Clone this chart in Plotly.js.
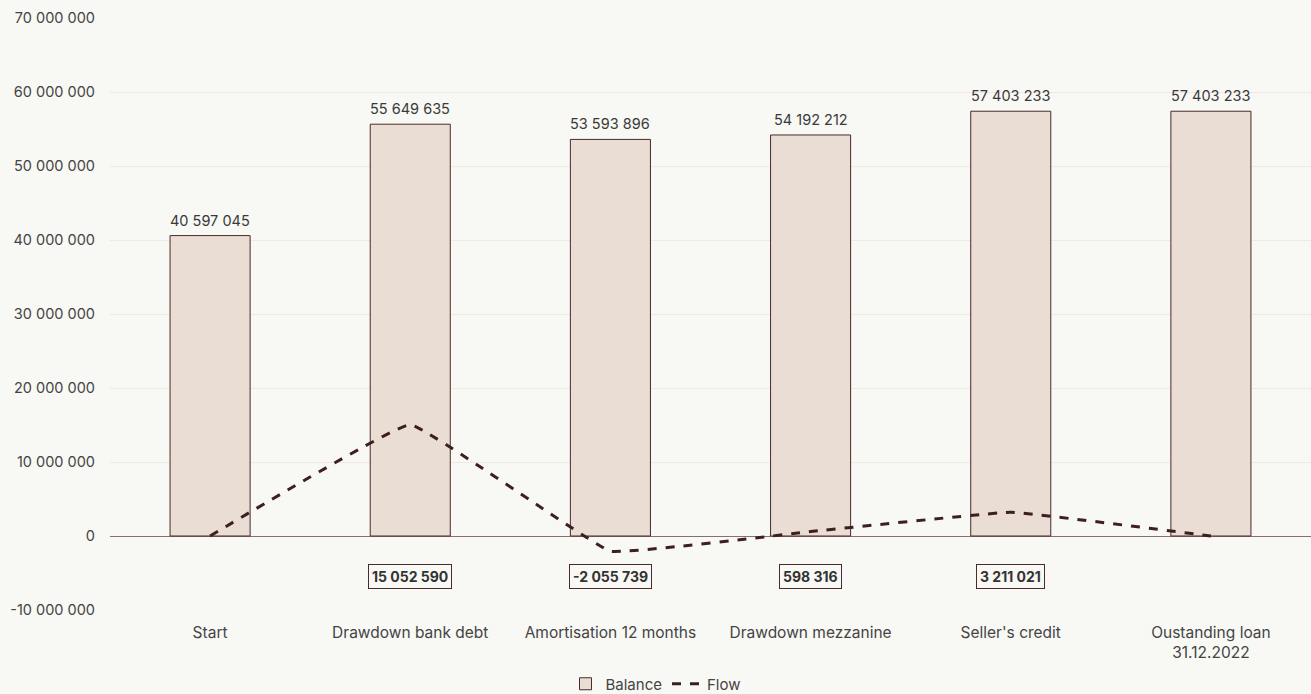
<!DOCTYPE html>
<html><head><meta charset="utf-8">
<script src="https://cdn.plot.ly/plotly-3.0.1.min.js"></script>
<style>html,body{margin:0;padding:0;background:#f8f8f4;}</style>
</head><body>
<div id="chart" style="width:1311px;height:694px;"></div>
<script>
const categories = ["Start", "Drawdown bank debt", "Amortisation 12 months", "Drawdown mezzanine", "Seller's credit", "Oustanding loan<br>31.12.2022"];
const balance = [40597045, 55649635, 53593896, 54192212, 57403233, 57403233];
const flow = [0, 15052590, -2055739, 598316, 3211021, 0];
const flowLabelY = -5500000;
const yTickVals = [-10000000, 0, 10000000, 20000000, 30000000, 40000000, 50000000, 60000000, 70000000];

function fmt(v){
  const s = Math.abs(Math.round(v)).toString().replace(/\B(?=(\d{3})+(?!\d))/g, " ");
  return (v < 0 ? "-" : "") + s;
}

const traces = [
  {
    type: "bar", name: "Balance", x: categories, y: balance,
    width: 0.4,
    marker: {color: "#e9ddd4", line: {color: "#4a2a2c", width: 1}},
    hoverinfo: "skip"
  },
  {
    type: "scatter", mode: "lines", name: "Flow", x: categories, y: flow,
    line: {color: "#3d1f22", width: 3, dash: "dash", shape: "spline", smoothing: 0.2},
    hoverinfo: "skip"
  }
];

const annotations = [];
balance.forEach((v, i) => {
  annotations.push({
    x: categories[i], y: v, xref: "x", yref: "y", yanchor: "bottom", yshift: 5,
    text: fmt(v), showarrow: false,
    font: {family: "Inter, sans-serif", size: 14.5, color: "#3a3a3a"}
  });
});
flow.forEach((v, i) => {
  if (v !== 0) {
    annotations.push({
      x: categories[i], y: flowLabelY, xref: "x", yref: "y",
      text: "<b>" + fmt(v) + "</b>", showarrow: false,
      font: {family: "Inter, sans-serif", size: 14, color: "#333"},
      bordercolor: "#4a2a2c", borderwidth: 1, borderpad: 3, bgcolor: "#f8f8f4"
    });
  }
});

const layout = {
  width: 1311, height: 694,
  paper_bgcolor: "#f8f8f4", plot_bgcolor: "#f8f8f4",
  margin: {l: 110, r: 0, t: 18, b: 84},
  font: {family: "Inter, sans-serif", size: 14.5, color: "#3a3a3a"},
  xaxis: {
    type: "category", showgrid: false, zeroline: false, showline: false, automargin: false,
    ticks: "", tickfont: {size: 15.5, color: "#444"}, ticklabelstandoff: 11
  },
  yaxis: {
    range: [-10000000, 70000000], automargin: false,
    showgrid: true, gridcolor: "#f4e6e2", gridwidth: 1,
    zeroline: true, zerolinecolor: "#8a6e6e", zerolinewidth: 1,
    showline: false, ticks: "", ticklabelstandoff: 14,
    tickvals: yTickVals,
    ticktext: yTickVals.map(fmt),
    tickfont: {size: 14.5, color: "#444"}
  },
  showlegend: true,
  legend: {orientation: "h", x: 0.5, xanchor: "center", xref: "container",
           y: 0.0144, yanchor: "middle", yref: "container",
           font: {size: 15, color: "#444"}, itemwidth: 30},
  annotations: annotations
};

Plotly.newPlot("chart", traces, layout, {displayModeBar: false, staticPlot: true});
</script>
</body></html>
